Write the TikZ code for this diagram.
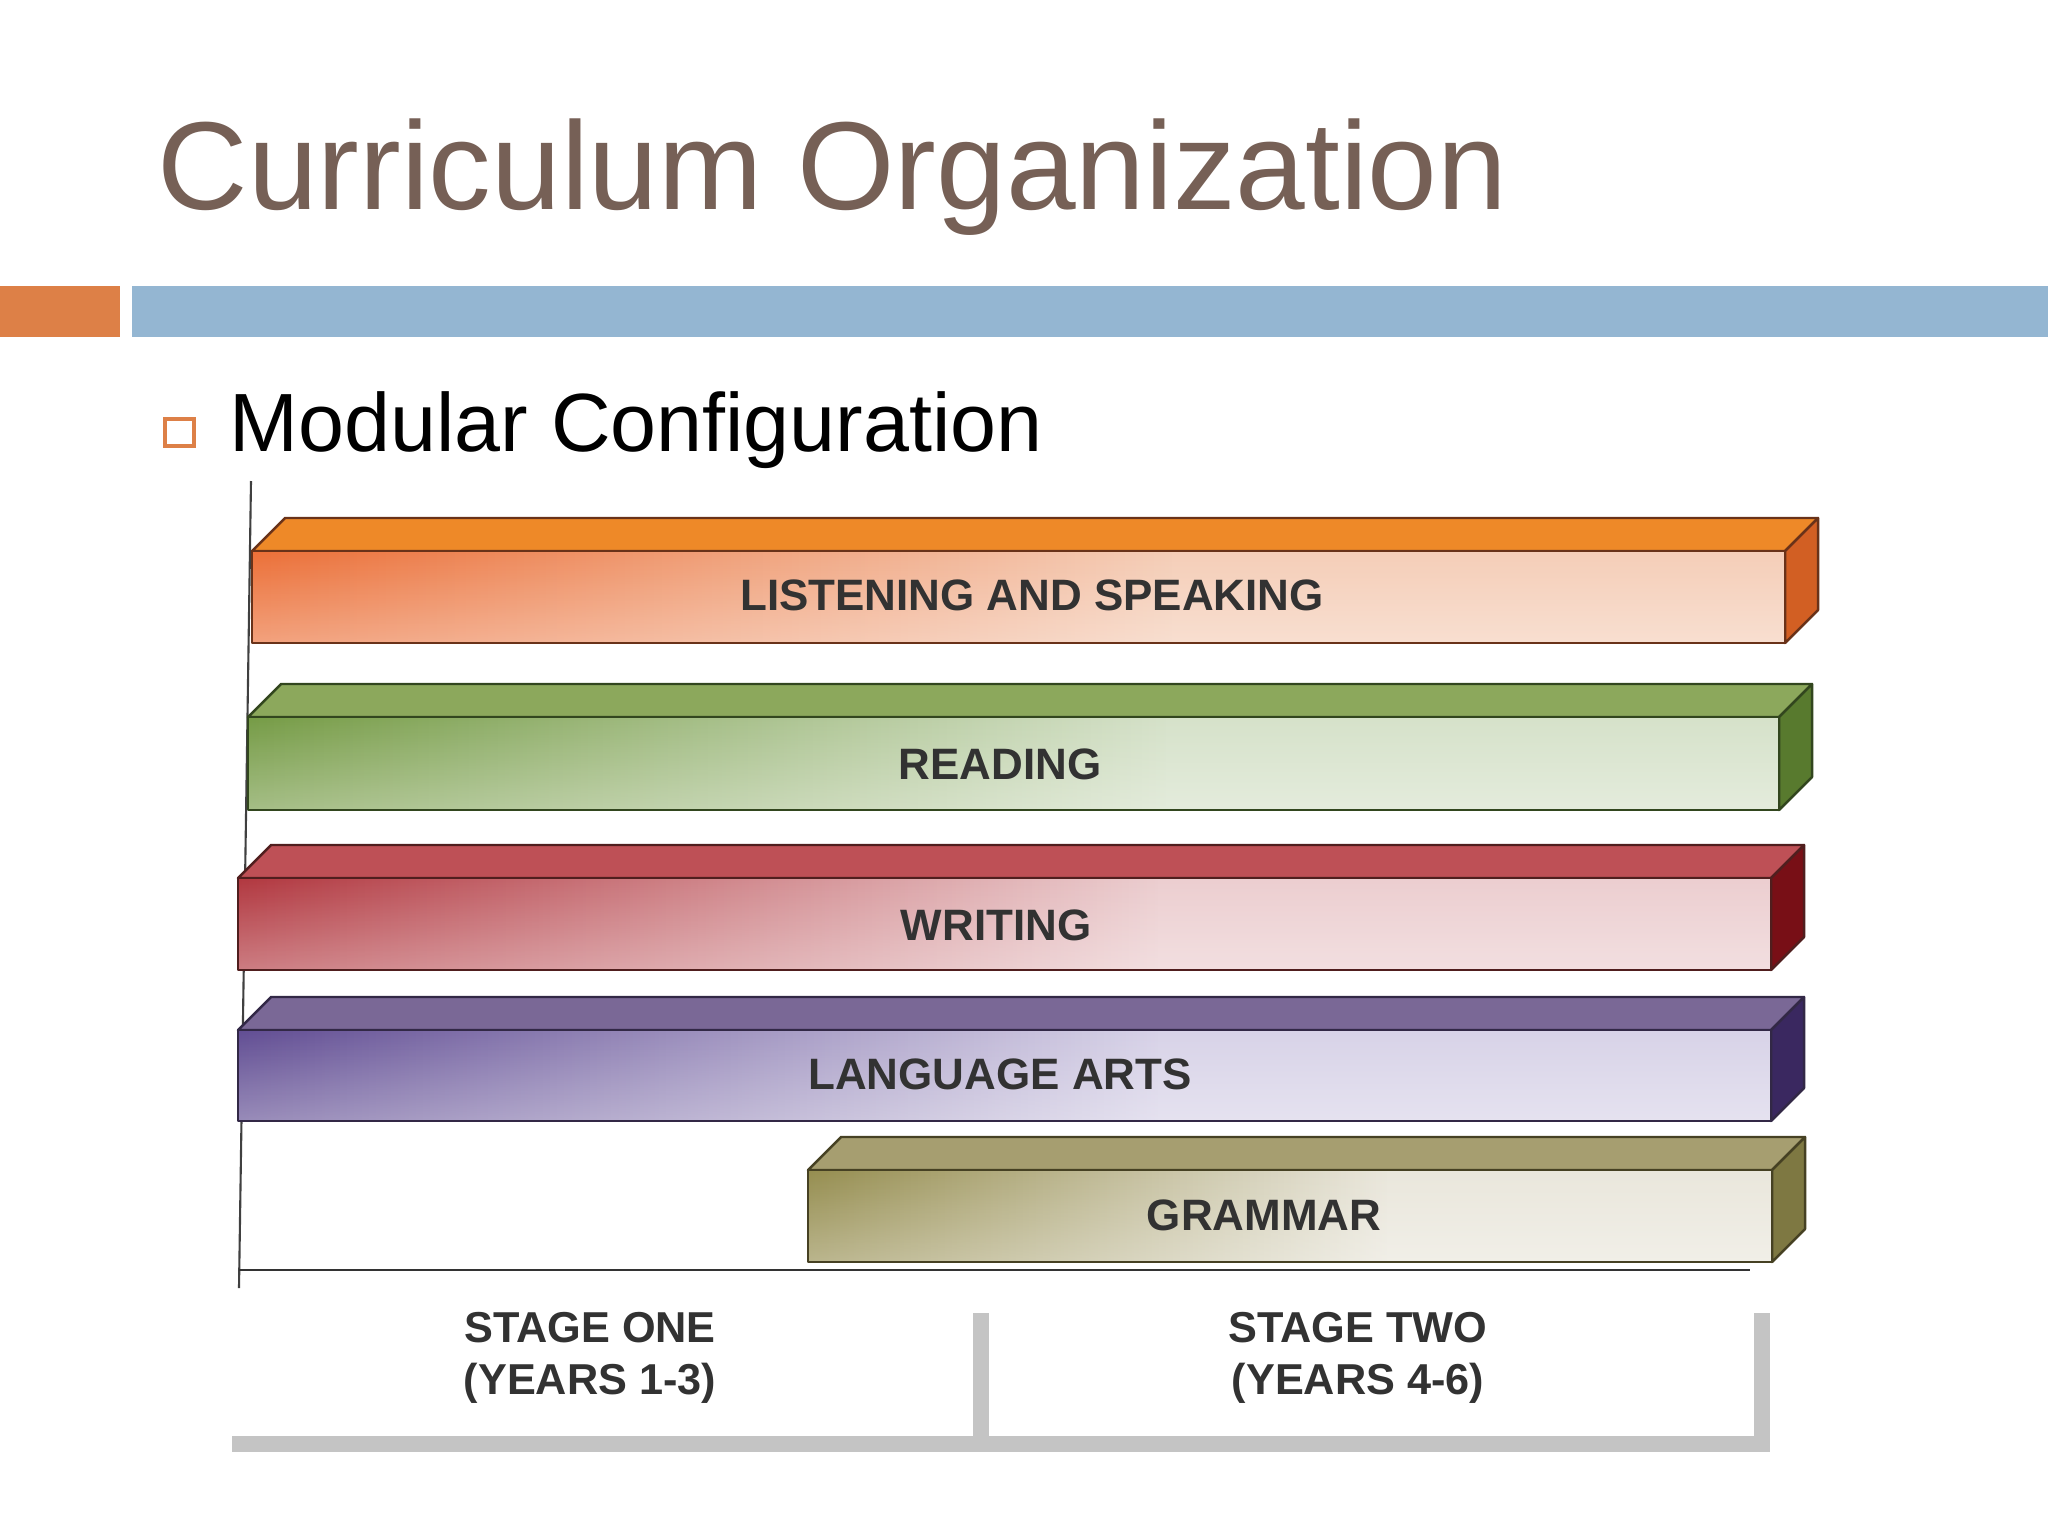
\documentclass[tikz,border=0pt]{standalone}
\usepackage{fontspec}
\setmainfont{Liberation Sans}
\usetikzlibrary{fadings}

\definecolor{titlebrown}{RGB}{118,96,86}
\definecolor{accentorange}{RGB}{221,128,71}
\definecolor{accentblue}{RGB}{148,182,210}
\definecolor{labelgray}{RGB}{50,50,50}
\definecolor{stagegray}{RGB}{196,196,196}
% listening and speaking
\definecolor{lsdeep}{RGB}{236,112,56}
\definecolor{lspale}{RGB}{245,206,184}
\definecolor{lstop}{RGB}{238,137,40}
\definecolor{lsside}{RGB}{210,95,35}
\definecolor{lsedge}{RGB}{105,50,25}
% reading
\definecolor{rddeep}{RGB}{118,156,70}
\definecolor{rdpale}{RGB}{214,226,202}
\definecolor{rdtop}{RGB}{140,168,92}
\definecolor{rdside}{RGB}{88,122,46}
\definecolor{rdedge}{RGB}{50,70,30}
% writing
\definecolor{wrdeep}{RGB}{178,56,64}
\definecolor{wrpale}{RGB}{236,206,208}
\definecolor{wrtop}{RGB}{190,80,86}
\definecolor{wrside}{RGB}{120,15,22}
\definecolor{wredge}{RGB}{80,30,30}
% language arts
\definecolor{ladeep}{RGB}{98,78,148}
\definecolor{lapale}{RGB}{216,211,232}
\definecolor{latop}{RGB}{122,104,150}
\definecolor{laside}{RGB}{58,40,96}
\definecolor{laedge}{RGB}{50,40,70}
% grammar
\definecolor{grdeep}{RGB}{150,142,80}
\definecolor{grpale}{RGB}{234,231,220}
\definecolor{grtop}{RGB}{166,158,112}
\definecolor{grside}{RGB}{126,120,66}
\definecolor{gredge}{RGB}{70,65,35}

\tikzfading[name=fade right, left color=transparent!0, right color=transparent!100]
\tikzfading[name=fade up, top color=transparent!100, bottom color=transparent!0]

\tikzset{
  barlabel/.style={font=\bfseries\fontsize{12.5}{15}\selectfont, text=labelgray, inner sep=0pt},
  stagelabel/.style={font=\bfseries\fontsize{12.3}{14.8}\selectfont, text=labelgray, align=center, inner sep=0pt},
  baredge/.style={line width=0.7pt, line join=round},
}

% #1 colour prefix, #2 left x, #3 right x, #4 top y, #5 bottom y
\newcommand{\modbar}[5]{%
  \fill[#1top, draw=#1edge, baredge] (#2,#4) -- ++(33,-33) -- (#3+33,#4-33) -- (#3,#4) -- cycle;
  \fill[#1side, draw=#1edge, baredge] (#3,#4) -- ++(33,-33) -- (#3+33,#5-33) -- (#3,#5) -- cycle;
  \fill[#1pale] (#2,#4) rectangle (#3,#5);
  \fill[#1deep, path fading=fade right] (#2,#4) rectangle ({#2+0.6*(#3-#2)},#5);
  \fill[white, fill opacity=.35, path fading=fade up] (#2,#4) rectangle (#3,#5);
  \draw[#1edge, baredge] (#2,#4) rectangle (#3,#5);
}

\begin{document}
\begin{tikzpicture}[x=0.01cm, y=-0.01cm]
  \useasboundingbox (0,0) rectangle (2048,1536);
  % header
  \node[anchor=base west, inner sep=0pt, text=titlebrown, font=\fontsize{35.6}{40}\selectfont] (title) at (157,209) {Curriculum Organization};
  \fill[accentorange] (0,286) rectangle (120,337);
  \fill[accentblue] (132,286) rectangle (2048,337);
  \draw[accentorange, line width=1pt, fill=white] (165,419) rectangle (194,446);
  \node[anchor=base west, inner sep=0pt, font=\fontsize{23.5}{28}\selectfont] (sub) at (229,451) {Modular Configuration};

  % axes
  \coordinate (axistop) at (251,481);
  \coordinate (axisbot) at (239,1288);
  \coordinate (baseL) at (239,1270);
  \coordinate (baseR) at (1750,1270);
  \draw[line width=0.6pt, black!75] (axistop) -- (axisbot);
  \draw[line width=0.8pt, black!80] (baseL) -- (baseR);

  % bars
  \modbar{ls}{252}{1785}{551}{643}
  \modbar{rd}{248}{1779}{717}{810}
  \modbar{wr}{238}{1771}{878}{970}
  \modbar{la}{238}{1771}{1030}{1121}
  \modbar{gr}{808}{1772}{1170}{1262}
  \node[barlabel] (listening) at (1032,595) {LISTENING AND SPEAKING};
  \node[barlabel] (reading) at (1000,764) {READING};
  \node[barlabel] (writing) at (996,925) {WRITING};
  \node[barlabel] (langarts) at (1000,1074) {LANGUAGE ARTS};
  \node[barlabel] (grammar) at (1264,1215) {GRAMMAR};

  % stages
  \coordinate (brL) at (232,1444);
  \coordinate (brM) at (981,1313);
  \coordinate (brR) at (1762,1313);
  \draw[stagegray, line width=4.3pt] (brL) -- (brL -| brR) -- (brR);
  \draw[stagegray, line width=4.3pt] (brM) -- (brM |- brL);
  \node[stagelabel] (stageone) at (590,1358) {STAGE ONE\\(YEARS 1-3)};
  \node[stagelabel] (stagetwo) at (1358,1358) {STAGE TWO\\(YEARS 4-6)};
\end{tikzpicture}
\end{document}
